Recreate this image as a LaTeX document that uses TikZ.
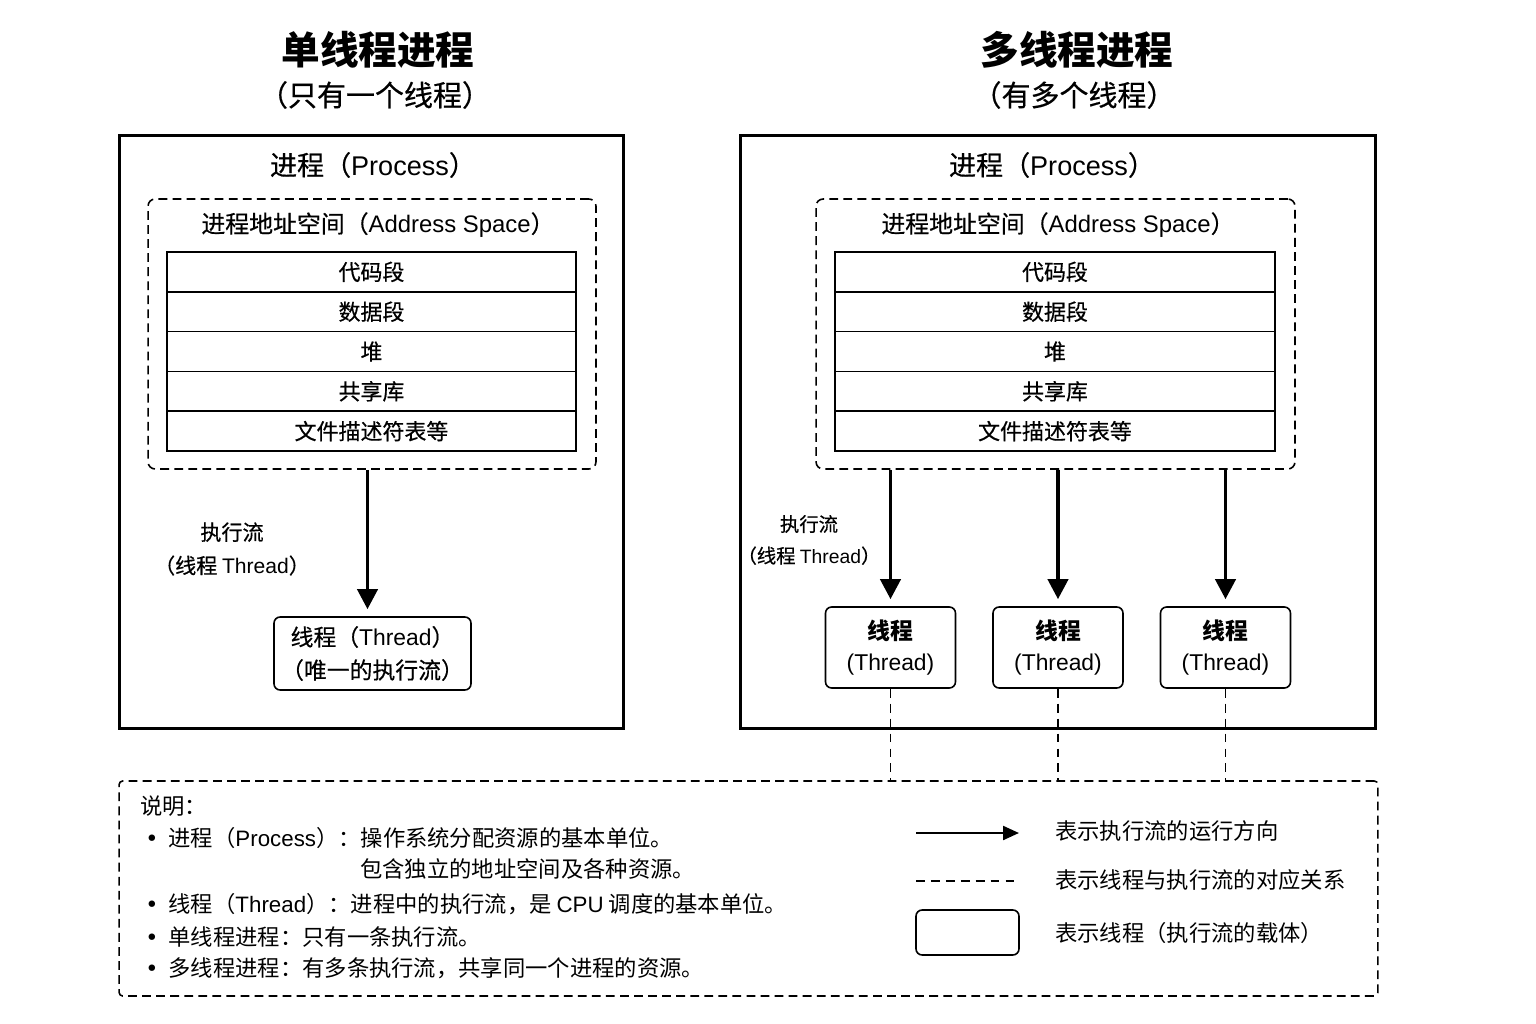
\documentclass[tikz,border=0pt]{standalone}
\usepackage{fontspec}
\setmainfont{Noto Sans CJK SC}
\newfontfamily\lat{Liberation Sans}
\newfontfamily\bulfont{DejaVu Sans}
\newfontface\medface{Noto Sans CJK SC}[FakeBold=0.5]
\usetikzlibrary{arrows.meta}

\tikzset{
  procbox/.style={draw, line width=1.7pt, inner sep=0pt},
  addrbox/.style={draw, line width=0.9pt, dash pattern=on 5pt off 3pt, rounded corners=4pt, inner sep=0pt},
  seg/.style={draw, line width=0.9pt, minimum height=0.795cm, inner sep=0pt, font=\medface\fontsize{12.5pt}{14pt}\selectfont},
  thr/.style={draw, line width=0.9pt, rounded corners=3.5pt, align=center, inner sep=0pt},
  flow/.style={-{Triangle[length=0.4cm,width=0.4cm]}, line width=2.2pt, shorten >=0.14cm},
  link/.style={line width=0.8pt, dash pattern=on 5pt off 3.5pt},
  note/.style={anchor=west, inner sep=0pt, font=\fontsize{12.7pt}{15pt}\selectfont},
}
\newcommand{\bul}{{\bulfont •}\hspace{0.45em}}

\begin{document}
\begin{tikzpicture}[x=0.02cm, y=-0.02cm]
    \useasboundingbox[fill=white] (0,0) rectangle (1536,1024);

    % titles
    \node[font=\bfseries\fontsize{22pt}{24pt}\selectfont] (t1) at (378,50) {单线程进程};
    \node[font=\medface\fontsize{16.5pt}{19pt}\selectfont] (s1) at (375,95) {（只有一个线程）};
    \node[font=\bfseries\fontsize{22pt}{24pt}\selectfont] (t2) at (1077,50) {多线程进程};
    \node[font=\medface\fontsize{16.5pt}{19pt}\selectfont] (s2) at (1074,95) {（有多个线程）};

    % single threaded process
    \node[procbox, minimum width=10.1cm, minimum height=11.88cm] (lp) at (371.5,432) {};
    \node[font=\medface\fontsize{15.4pt}{18pt}\selectfont] (lpt) at (373,165) {进程（{\lat Process}）};
    \node[addrbox, minimum width=8.96cm, minimum height=5.4cm] (la) at (372,334) {};
    \node[font=\medface\fontsize{13.6pt}{16pt}\selectfont] (lat) at (378,225) {进程地址空间（{\lat Address Space}）};
    \foreach \t [count=\i] in {代码段, 数据段, 堆, 共享库, 文件描述符表等}
      \node[seg, minimum width=8.18cm] (ls\i) at (371.5, 232.1+39.8*\i) {\t};
    \node[thr, minimum width=3.94cm, minimum height=1.46cm, font=\medface\fontsize{13pt}{18.8pt}\selectfont] (lt) at (372.5,653.5) {线程（{\lat Thread}）\\（唯一的执行流）};
    \draw[flow] ([xshift=-0.1cm]la.south -| lt.north) -- ([xshift=-0.1cm]lt.north);
    \node[align=center, font=\medface\fontsize{12pt}{19pt}\selectfont] (lf) at (232,549) {执行流\\（线程 {\lat Thread}）};

    % multi threaded process
    \node[procbox, minimum width=12.72cm, minimum height=11.88cm] (rp) at (1058,432) {};
    \node[font=\medface\fontsize{15.4pt}{18pt}\selectfont] (rpt) at (1052,165) {进程（{\lat Process}）};
    \node[addrbox, minimum width=9.58cm, minimum height=5.4cm] (ra) at (1055.5,334) {};
    \node[font=\medface\fontsize{13.6pt}{16pt}\selectfont] (rat) at (1058,225) {进程地址空间（{\lat Address Space}）};
    \foreach \t [count=\i] in {代码段, 数据段, 堆, 共享库, 文件描述符表等}
      \node[seg, minimum width=8.8cm] (rs\i) at (1055, 232.1+39.8*\i) {\t};
    \foreach \x [count=\i] in {890.5, 1058, 1225.5} {
      \node[thr, minimum width=2.6cm, minimum height=1.62cm, font=\fontsize{13pt}{18pt}\selectfont] (rt\i) at (\x,647.5) {{\bfseries 线程}\\{\lat (Thread)}};
      \draw[flow] (ra.south -| rt\i.north) -- (rt\i.north);
    }
    \node[align=center, font=\medface\fontsize{11pt}{18pt}\selectfont] (rf) at (809,540) {执行流\\（线程 {\lat Thread}）};

    % legend
    \node[draw, line width=0.9pt, dash pattern=on 5pt off 3pt, rounded corners=2pt, minimum width=25.18cm, minimum height=4.3cm] (lg) at (748.5,888.5) {};
    \foreach \i in {1,2,3}
      \draw[link] (rt\i.south) -- (rt\i.south |- lg.north);

    \node[note] (n0) at (140,806) {说明：};
    \node[note] (n1) at (145,838) {\bul 进程（{\lat Process}）：操作系统分配资源的基本单位。};
    \node[note] (n2) at (360,869) {包含独立的地址空间及各种资源。};
    \node[note] (n3) at (145,904) {\bul 线程（{\lat Thread}）：进程中的执行流，是 {\lat CPU} 调度的基本单位。};
    \node[note] (n4) at (145,937) {\bul 单线程进程：只有一条执行流。};
    \node[note] (n5) at (145,968) {\bul 多线程进程：有多条执行流，共享同一个进程的资源。};

    \coordinate (k1a) at (916,833);
    \coordinate (k1b) at (1019,833);
    \draw[-{Triangle[length=0.32cm,width=0.28cm]}, line width=1.3pt] (k1a) -- (k1b);
    \coordinate (k2a) at (916,881);
    \coordinate (k2b) at (1019,881);
    \draw[link] (k2a) -- (k2b);
    \node[thr, minimum width=2.06cm, minimum height=0.9cm] (k3) at (967.5,932.5) {};
    \node[note] (m1) at (1055,831) {表示执行流的运行方向};
    \node[note] (m2) at (1055,880) {表示线程与执行流的对应关系};
    \node[note] (m3) at (1055,933) {表示线程（执行流的载体）};
\end{tikzpicture}
\end{document}
